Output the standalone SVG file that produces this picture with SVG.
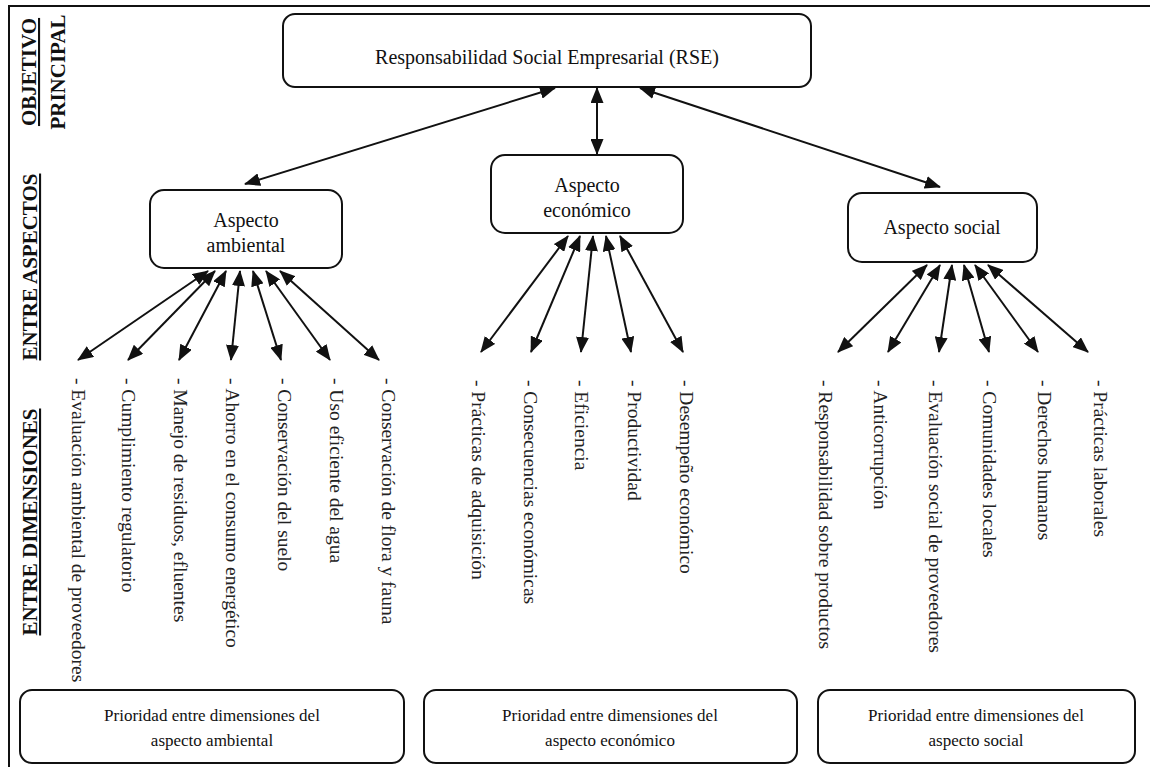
<svg xmlns="http://www.w3.org/2000/svg" width="1150" height="767" viewBox="0 0 1150 767">
<defs>
<marker id="ah" viewBox="0 0 16 13" markerUnits="userSpaceOnUse" markerWidth="16" markerHeight="13" refX="15" refY="6.5" orient="auto-start-reverse">
<path d="M0,0 L16,6.5 L0,13 z" fill="#111"/>
</marker>
<style>
.box{fill:#fff;stroke:#111;stroke-width:2}
.t{font-family:"Liberation Serif","Times New Roman",serif;fill:#111;text-anchor:middle}
.big{font-size:20px}
.small{font-size:17px}
.lab{font-family:"Liberation Serif","Times New Roman",serif;font-weight:bold;font-size:21px;fill:#111;text-anchor:middle}
.u{text-decoration:underline}
.item{font-family:"Liberation Serif","Times New Roman",serif;font-size:19.5px;fill:#222;dominant-baseline:central}
.c line{stroke:#111;stroke-width:2;marker-start:url(#ah);marker-end:url(#ah)}
</style>
</defs>
<rect width="1150" height="767" fill="#fff"/>
<path d="M9,767 V6 H1150" fill="none" stroke="#111" stroke-width="2"/>

<g id="labels">
<text class="lab u" transform="translate(36,72) rotate(-90)">OBJETIVO</text>
<text class="lab" transform="translate(65,72) rotate(-90)">PRINCIPAL</text>
<text class="lab u" transform="translate(37,267) rotate(-90)">ENTRE ASPECTOS</text>
<text class="lab u" transform="translate(37,522) rotate(-90)">ENTRE DIMENSIONES</text>
</g>

<g id="rse">
<rect class="box" x="283" y="14" width="528" height="73" rx="12"/>
<text class="t big" x="547" y="64">Responsabilidad Social Empresarial (RSE)</text>
</g>

<g id="ambiental">
<rect class="box" x="150" y="190" width="192" height="78" rx="14"/>
<text class="t big" x="246" y="227">Aspecto</text>
<text class="t big" x="246" y="252">ambiental</text>
</g>

<g id="economico">
<rect class="box" x="491" y="155" width="192" height="78" rx="14"/>
<text class="t big" x="587" y="192">Aspecto</text>
<text class="t big" x="587" y="217">económico</text>
</g>

<g id="social">
<rect class="box" x="848" y="193" width="189" height="69" rx="14"/>
<text class="t big" x="942" y="234">Aspecto social</text>
</g>

<g id="dim-ambiental">
<text class="item" transform="translate(78,378) rotate(90)">- Evaluación ambiental de proveedores</text>
<text class="item" transform="translate(128,378) rotate(90)">- Cumplimiento regulatorio</text>
<text class="item" transform="translate(180,378) rotate(90)">- Manejo de residuos, efluentes</text>
<text class="item" transform="translate(232,378) rotate(90)">- Ahorro en el consumo energético</text>
<text class="item" transform="translate(284,378) rotate(90)">- Conservación del suelo</text>
<text class="item" transform="translate(336,378) rotate(90)">- Uso eficiente del agua</text>
<text class="item" transform="translate(388,378) rotate(90)">- Conservación de flora y fauna</text>
</g>

<g id="dim-economico">
<text class="item" transform="translate(478,380) rotate(90)">- Prácticas de adquisición</text>
<text class="item" transform="translate(530,380) rotate(90)">- Consecuencias económicas</text>
<text class="item" transform="translate(581,380) rotate(90)">- Eficiencia</text>
<text class="item" transform="translate(634,380) rotate(90)">- Productividad</text>
<text class="item" transform="translate(686,380) rotate(90)">- Desempeño económico</text>
</g>

<g id="dim-social">
<text class="item" transform="translate(825,380) rotate(90)">- Responsabilidad sobre productos</text>
<text class="item" transform="translate(880,380) rotate(90)">- Anticorrupción</text>
<text class="item" transform="translate(935,380) rotate(90)">- Evaluación social de proveedores</text>
<text class="item" transform="translate(989,380) rotate(90)">- Comunidades locales</text>
<text class="item" transform="translate(1044,380) rotate(90)">- Derechos humanos</text>
<text class="item" transform="translate(1100,380) rotate(90)">- Prácticas laborales</text>
</g>

<g id="prio-ambiental">
<rect class="box" x="20" y="690" width="384" height="73" rx="12"/>
<text class="t small" x="212" y="721">Prioridad entre dimensiones del</text>
<text class="t small" x="212" y="746">aspecto ambiental</text>
</g>
<g id="prio-economico">
<rect class="box" x="424" y="690" width="373" height="73" rx="12"/>
<text class="t small" x="610" y="721">Prioridad entre dimensiones del</text>
<text class="t small" x="610" y="746">aspecto económico</text>
</g>
<g id="prio-social">
<rect class="box" x="818" y="690" width="317" height="73" rx="12"/>
<text class="t small" x="976" y="721">Prioridad entre dimensiones del</text>
<text class="t small" x="976" y="746">aspecto social</text>
</g>

<g id="connectors" class="c">
<line x1="555" y1="88" x2="245" y2="184"/>
<line x1="597" y1="88" x2="597" y2="154"/>
<line x1="640" y1="88" x2="940" y2="187"/>

<line x1="208" y1="271" x2="78" y2="360"/>
<line x1="215" y1="271" x2="128" y2="360"/>
<line x1="226" y1="271" x2="179" y2="360"/>
<line x1="240" y1="271" x2="231" y2="360"/>
<line x1="253" y1="271" x2="281" y2="360"/>
<line x1="266" y1="271" x2="330" y2="360"/>
<line x1="280" y1="271" x2="379" y2="360"/>

<line x1="568" y1="236" x2="481" y2="352"/>
<line x1="580" y1="236" x2="531" y2="352"/>
<line x1="593" y1="236" x2="581" y2="352"/>
<line x1="606" y1="236" x2="631" y2="352"/>
<line x1="620" y1="236" x2="683" y2="352"/>

<line x1="927" y1="265" x2="838" y2="352"/>
<line x1="940" y1="265" x2="888" y2="352"/>
<line x1="952" y1="265" x2="939" y2="352"/>
<line x1="964" y1="265" x2="989" y2="352"/>
<line x1="975" y1="265" x2="1038" y2="352"/>
<line x1="988" y1="265" x2="1088" y2="352"/>
</g>
</svg>
